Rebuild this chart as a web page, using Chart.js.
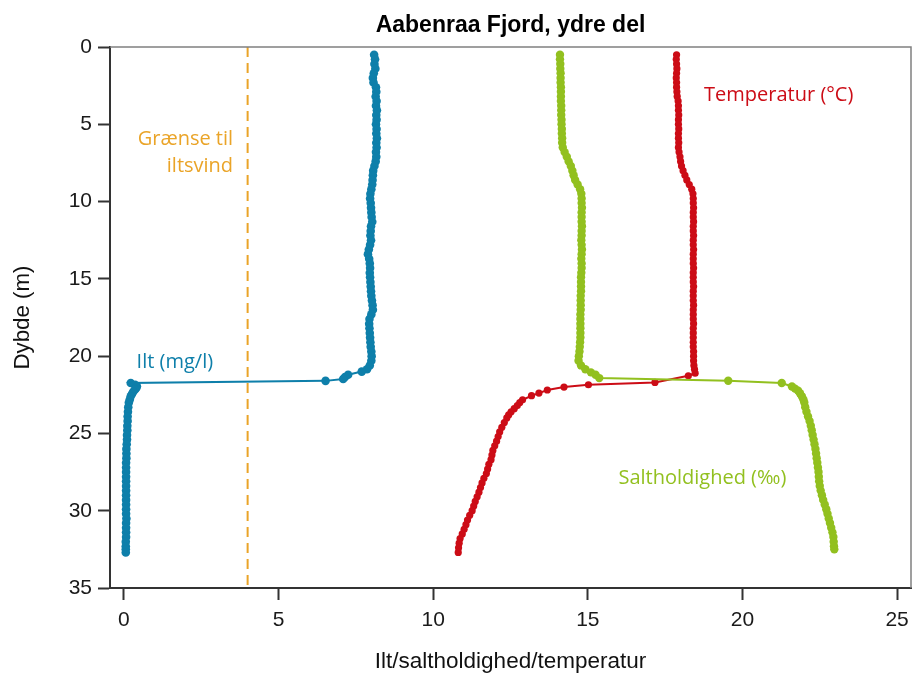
<!DOCTYPE html>
<html lang="da">
<head>
<meta charset="utf-8">
<title>Aabenraa Fjord, ydre del</title>
<script src="https://cdn.jsdelivr.net/npm/chart.js@4.4.1/dist/chart.umd.min.js"></script>
<style>
  html, body { margin: 0; padding: 0; background: #fff; }
  #profil { display: block; }
</style>
</head>
<body>
<canvas id="profil" width="912" height="675"></canvas>
<script>
// ilt (mg/l) mod dybde (m)
const iltDybde = [
  0.5, 0.8, 1.1, 1.4, 1.7, 2.0, 2.3, 2.6, 2.9, 3.2,
  3.5, 3.8, 4.1, 4.4, 4.7, 5.0, 5.3, 5.6, 5.9, 6.2,
  6.5, 6.8, 7.1, 7.4, 7.7, 8.0, 8.3, 8.6, 8.9, 9.2,
  9.5, 9.8, 10.1, 10.4, 10.7, 11.0, 11.3, 11.6, 11.9, 12.2,
  12.5, 12.8, 13.1, 13.4, 13.7, 14.0, 14.3, 14.6, 14.9, 15.2,
  15.5, 15.8, 16.1, 16.4, 16.7, 17.0, 17.3, 17.6, 17.9, 18.2,
  18.5, 18.8, 19.1, 19.4, 19.7, 20.0, 20.3, 20.6, 20.85, 21.0,
  21.2, 21.35, 21.48, 21.6, 21.74, 21.85, 21.95, 22.06, 22.15, 22.3,
  22.45, 22.6, 22.8, 23.0, 23.3, 23.6, 23.9, 24.2, 24.5, 24.8,
  25.1, 25.4, 25.7, 26.0, 26.3, 26.6, 26.9, 27.2, 27.5, 27.8,
  28.1, 28.4, 28.7, 29.0, 29.3, 29.6, 29.9, 30.2, 30.5, 30.8,
  31.1, 31.4, 31.7, 32.0, 32.3, 32.5, 32.7,
];
const iltVaerdi = [
  8.09, 8.12, 8.10, 8.13, 8.08, 8.05, 8.07, 8.15, 8.16, 8.14,
  8.17, 8.15, 8.18, 8.16, 8.17, 8.15, 8.17, 8.16, 8.18, 8.16,
  8.17, 8.15, 8.16, 8.14, 8.10, 8.06, 8.05, 8.04, 8.03, 8.00,
  7.97, 7.96, 7.98, 7.99, 8.00, 8.01, 8.03, 7.99, 7.98, 7.97,
  7.99, 7.96, 7.92, 7.89, 7.93, 7.95, 7.96, 7.95, 7.96, 7.97,
  7.98, 7.99, 8.00, 8.02, 8.04, 8.05, 8.00, 7.94, 7.93, 7.94,
  7.95, 7.96, 7.97, 7.98, 8.00, 8.01, 8.00, 7.95, 7.86, 7.69,
  7.25, 7.15, 7.09, 6.52, 0.22, 0.36, 0.42, 0.40, 0.36, 0.30,
  0.26, 0.22, 0.19, 0.16, 0.14, 0.13, 0.12, 0.12, 0.11, 0.11,
  0.10, 0.10, 0.09, 0.08, 0.08, 0.08, 0.07, 0.07, 0.07, 0.07,
  0.07, 0.07, 0.07, 0.07, 0.07, 0.07, 0.07, 0.07, 0.08, 0.07,
  0.07, 0.07, 0.07, 0.06, 0.06, 0.06, 0.06,
];

// saltholdighed (promille) mod dybde (m)
const saltDybde = [
  0.5, 0.8, 1.1, 1.4, 1.7, 2.0, 2.3, 2.6, 2.9, 3.2,
  3.5, 3.8, 4.1, 4.4, 4.7, 5.0, 5.3, 5.6, 5.9, 6.2,
  6.5, 6.8, 7.1, 7.4, 7.7, 8.0, 8.3, 8.6, 8.9, 9.2,
  9.5, 9.8, 10.1, 10.4, 10.7, 11.0, 11.3, 11.6, 11.9, 12.2,
  12.5, 12.8, 13.1, 13.4, 13.7, 14.0, 14.3, 14.6, 14.9, 15.2,
  15.5, 15.8, 16.1, 16.4, 16.7, 17.0, 17.3, 17.6, 17.9, 18.2,
  18.5, 18.8, 19.1, 19.4, 19.7, 20.0, 20.3, 20.6, 20.85, 21.05,
  21.2, 21.42, 21.59, 21.74, 21.96, 22.1, 22.24, 22.4, 22.6, 22.8,
  23.0, 23.3, 23.6, 23.9, 24.2, 24.5, 24.8, 25.1, 25.4, 25.7,
  26.0, 26.3, 26.6, 26.9, 27.2, 27.5, 27.8, 28.1, 28.4, 28.7,
  29.0, 29.3, 29.6, 29.9, 30.2, 30.5, 30.8, 31.1, 31.4, 31.7,
  32.0, 32.3, 32.5,
];
const saltVaerdi = [
  14.10, 14.10, 14.11, 14.11, 14.12, 14.12, 14.12, 14.13, 14.13, 14.13,
  14.13, 14.14, 14.14, 14.14, 14.15, 14.15, 14.16, 14.16, 14.17, 14.17,
  14.19, 14.25, 14.32, 14.38, 14.45, 14.50, 14.54, 14.59, 14.67, 14.75,
  14.79, 14.80, 14.80, 14.81, 14.80, 14.80, 14.80, 14.81, 14.80, 14.80,
  14.79, 14.80, 14.81, 14.80, 14.79, 14.80, 14.80, 14.79, 14.78, 14.78,
  14.78, 14.78, 14.77, 14.77, 14.77, 14.77, 14.76, 14.76, 14.76, 14.76,
  14.76, 14.76, 14.75, 14.74, 14.73, 14.71, 14.70, 14.78, 14.92, 15.10,
  15.25, 15.37, 19.54, 21.27, 21.60, 21.70, 21.80, 21.86, 21.92, 21.97,
  22.00, 22.03, 22.07, 22.12, 22.17, 22.21, 22.24, 22.27, 22.30, 22.33,
  22.36, 22.38, 22.40, 22.42, 22.44, 22.46, 22.47, 22.48, 22.50, 22.53,
  22.57, 22.61, 22.66, 22.71, 22.75, 22.79, 22.83, 22.87, 22.91, 22.94,
  22.95, 22.96, 22.97,
];

// temperatur (grader C) mod dybde (m)
const tempDybde = [
  0.5, 0.8, 1.1, 1.4, 1.7, 2.0, 2.3, 2.6, 2.9, 3.2,
  3.5, 3.8, 4.1, 4.4, 4.7, 5.0, 5.3, 5.6, 5.9, 6.2,
  6.5, 6.8, 7.1, 7.4, 7.7, 8.0, 8.3, 8.6, 8.9, 9.2,
  9.5, 9.8, 10.1, 10.4, 10.7, 11.0, 11.3, 11.6, 11.9, 12.2,
  12.5, 12.8, 13.1, 13.4, 13.7, 14.0, 14.3, 14.6, 14.9, 15.2,
  15.5, 15.8, 16.1, 16.4, 16.7, 17.0, 17.3, 17.6, 17.9, 18.2,
  18.5, 18.8, 19.1, 19.4, 19.7, 20.0, 20.3, 20.6, 20.85, 21.1,
  21.27, 21.7, 21.85, 22.0, 22.19, 22.39, 22.56, 22.82, 23.0, 23.2,
  23.4, 23.6, 23.8, 24.0, 24.3, 24.6, 24.9, 25.2, 25.5, 25.8,
  26.1, 26.4, 26.7, 27.0, 27.3, 27.6, 27.9, 28.2, 28.5, 28.8,
  29.1, 29.4, 29.7, 30.0, 30.3, 30.6, 30.9, 31.2, 31.5, 31.8,
  32.1, 32.4, 32.7,
];
const tempVaerdi = [
  17.87, 17.86, 17.87, 17.88, 17.87, 17.86, 17.87, 17.87, 17.88, 17.89,
  17.92, 17.93, 17.93, 17.94, 17.93, 17.93, 17.94, 17.93, 17.93, 17.94,
  17.93, 17.95, 17.98, 18.00, 18.03, 18.08, 18.14, 18.20, 18.28, 18.36,
  18.40, 18.41, 18.41, 18.42, 18.41, 18.41, 18.42, 18.41, 18.41, 18.42,
  18.41, 18.41, 18.42, 18.41, 18.41, 18.41, 18.42, 18.41, 18.41, 18.41,
  18.42, 18.41, 18.41, 18.41, 18.42, 18.41, 18.41, 18.41, 18.42, 18.41,
  18.41, 18.41, 18.41, 18.41, 18.42, 18.42, 18.42, 18.43, 18.45, 18.47,
  18.25, 17.17, 15.02, 14.23, 13.69, 13.42, 13.18, 12.89, 12.80, 12.72,
  12.62, 12.52, 12.44, 12.38, 12.30, 12.22, 12.15, 12.10, 12.05, 11.99,
  11.93, 11.90, 11.87, 11.80, 11.76, 11.72, 11.64, 11.58, 11.53, 11.48,
  11.42, 11.36, 11.31, 11.26, 11.18, 11.11, 11.06, 11.00, 10.94, 10.87,
  10.84, 10.82, 10.81,
];

// graense til iltsvind (mg/l) og akse-inddeling
const iltsvindGraense = 4;
const dybdeSpaend = [0, 35];
const xTicks = [0, 5, 10, 15, 20, 25];

const BLAA = 'rgb(14, 127, 170)';
const GROEN = 'rgb(146, 192, 31)';
const ROED = 'rgb(204, 12, 22)';
const ORANGE = 'rgb(234, 164, 40)';

const punkter = (dybde, vaerdi) => dybde.map((d, i) => ({ x: vaerdi[i], y: d }));

// ramme foroven og til hoejre + tekst inde i plottet
const rammeOgTekst = {
  id: 'rammeOgTekst',
  afterDraw(chart) {
    const { ctx, chartArea: a, scales: { x, y } } = chart;
    ctx.save();
    ctx.strokeStyle = '#808080';
    ctx.lineWidth = 1.5;
    ctx.beginPath();
    ctx.moveTo(a.left, a.top);
    ctx.lineTo(a.right, a.top);
    ctx.lineTo(a.right, a.bottom);
    ctx.stroke();

    ctx.font = '20px "Open Sans"';
    ctx.textBaseline = 'middle';

    ctx.fillStyle = ORANGE;
    ctx.textAlign = 'right';
    ctx.fillText('Grænse til', x.getPixelForValue(3.53), y.getPixelForValue(6.0));
    ctx.fillText('iltsvind', x.getPixelForValue(3.53), y.getPixelForValue(7.75));

    ctx.textAlign = 'left';
    ctx.fillStyle = ROED;
    ctx.fillText('Temperatur (°C)', x.getPixelForValue(18.76), y.getPixelForValue(3.15));
    ctx.fillStyle = BLAA;
    ctx.fillText('Ilt (mg/l)', x.getPixelForValue(0.41), y.getPixelForValue(20.4));
    ctx.fillStyle = GROEN;
    ctx.fillText('Saltholdighed (‰)', x.getPixelForValue(15.99), y.getPixelForValue(27.9));
    ctx.restore();
  },
};

const tickFont = { family: '"Liberation Sans", Arial, sans-serif', size: 21 };

const config = {
  type: 'scatter',
  data: {
    datasets: [
      {
        label: 'Saltholdighed (‰)',
        data: punkter(saltDybde, saltVaerdi),
        showLine: true,
        borderColor: GROEN,
        backgroundColor: GROEN,
        borderWidth: 2,
        pointRadius: 4.2,
        pointBorderWidth: 0,
      },
      {
        label: 'Temperatur (°C)',
        data: punkter(tempDybde, tempVaerdi),
        showLine: true,
        borderColor: ROED,
        backgroundColor: ROED,
        borderWidth: 2,
        pointRadius: 3.6,
        pointBorderWidth: 0,
      },
      {
        label: 'Ilt (mg/l)',
        data: punkter(iltDybde, iltVaerdi),
        showLine: true,
        borderColor: BLAA,
        backgroundColor: BLAA,
        borderWidth: 2,
        pointRadius: 4.3,
        pointBorderWidth: 0,
      },
      {
        label: 'Grænse til iltsvind',
        data: dybdeSpaend.map((d) => ({ x: iltsvindGraense, y: d })),
        showLine: true,
        borderColor: ORANGE,
        borderWidth: 2,
        borderDash: [10, 6],
        pointRadius: 0,
      },
    ],
  },
  options: {
    responsive: false,
    animation: false,
    events: [],
    layout: { autoPadding: false, padding: { top: 0, right: 1, bottom: 0, left: 0 } },
    plugins: {
      legend: { display: false },
      tooltip: { enabled: false },
      title: {
        display: true,
        fullSize: false,
        text: 'Aabenraa Fjord, ydre del',
        color: '#000',
        font: { family: '"Liberation Sans", Arial, sans-serif', size: 23, weight: 'bold' },
        padding: { top: 12, bottom: 7.4 },
      },
    },
    scales: {
      x: {
        type: 'linear',
        min: -0.45,
        max: 25.45,
        afterBuildTicks: (scale) => {
          scale.ticks = xTicks.map((v) => ({ value: v }));
        },
        afterFit: (scale) => {
          scale.height = 87;
          scale.paddingLeft = 0;
          scale.paddingRight = 0;
        },
        ticks: { font: tickFont, color: '#1a1a1a', padding: 8 },
        grid: { drawOnChartArea: false, drawTicks: true, tickLength: 12, tickWidth: 2, tickColor: '#333' },
        border: { color: '#333', width: 2 },
        title: {
          display: true,
          text: 'Ilt/saltholdighed/temperatur',
          color: '#111',
          font: { family: '"Liberation Sans", Arial, sans-serif', size: 22.5 },
          padding: { top: 0, bottom: 0 },
        },
      },
      y: {
        type: 'linear',
        reverse: true,
        min: 0,
        max: 35,
        afterFit: (scale) => {
          scale.width = 110;
          scale.paddingTop = 0;
          scale.paddingBottom = 0;
        },
        ticks: { stepSize: 5, font: tickFont, color: '#1a1a1a', padding: 6 },
        grid: { drawOnChartArea: false, drawTicks: true, tickLength: 12, tickWidth: 2, tickColor: '#333' },
        border: { color: '#333', width: 2 },
        title: {
          display: true,
          text: 'Dybde (m)',
          color: '#111',
          font: { family: '"Liberation Sans", Arial, sans-serif', size: 22.3 },
          padding: { top: 9, bottom: 0 },
        },
      },
    },
  },
  plugins: [rammeOgTekst],
};

new Chart(document.getElementById('profil'), config);
</script>
</body>
</html>
